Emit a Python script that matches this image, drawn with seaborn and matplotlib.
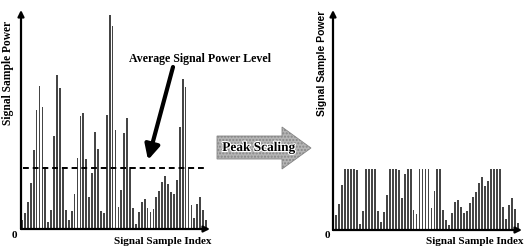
import matplotlib
matplotlib.use("Agg")
import matplotlib.pyplot as plt
import matplotlib.patheffects as pe
import numpy as np
import seaborn as sns
from matplotlib.patches import Polygon

# signal power per sample (pixel-ish units above baseline)
original_power = [9, 16, 27, 46, 79, 119, 143, 122, 62, 7, 19, 93, 154, 141, 62, 19,
                  9, 18, 35, 71, 113, 116, 70, 32, 56, 97, 80, 18, 16, 114, 214, 203,
                  99, 22, 39, 96, 111, 62, 21, 5, 17, 27, 30, 21, 17, 20, 32, 38,
                  47, 53, 45, 37, 35, 49, 102, 150, 142, 62, 24, 11, 25, 32, 19, 9]
scaled_power = [9, 15, 26, 45, 61, 61, 61, 61, 60, 6, 19, 61, 61, 61, 61, 19,
                8, 18, 35, 61, 61, 61, 60, 32, 56, 61, 61, 20, 16, 61, 61, 61,
                61, 22, 39, 61, 61, 20, 10, 5, 17, 28, 30, 23, 17, 19, 27, 33,
                38, 47, 53, 44, 49, 61, 61, 61, 61, 23, 11, 25, 32, 21, 7]
average_level = 61

y_label = "Signal Sample Power"
x_label = "Signal Sample Index"
avg_label = "Average Signal Power Level"
arrow_label = "Peak Scaling"

sns.set_theme(style="white")
plt.rcParams["font.family"] = ["Liberation Serif", "DejaVu Serif"]

W, H = 524, 248
fig = plt.figure(figsize=(W / 100, H / 100), dpi=100)
fig.patch.set_facecolor("white")


def panel(rect, values, xlim, ylim):
    ax = fig.add_axes(rect)
    idx = np.arange(len(values))
    sns.barplot(x=idx, y=values, native_scale=True, width=0.6, color="#454545",
                saturation=1, edgecolor="none", ax=ax)
    ax.set_xlim(*xlim)
    ax.set_ylim(*ylim)
    ax.set_xlabel("")
    ax.set_ylabel("")
    ax.set_xticks([])
    ax.set_yticks([])
    for s in ax.spines.values():
        s.set_visible(False)
    ax.patch.set_alpha(0)
    arrow = dict(arrowstyle="-|>", lw=1.6, color="black", mutation_scale=9,
                 shrinkA=0, shrinkB=0)
    ax.annotate("", xy=(0, 1), xytext=(0, 0), xycoords="axes fraction", arrowprops=arrow)
    ax.annotate("", xy=(1, 0), xytext=(0, 0), xycoords="axes fraction", arrowprops=arrow)
    return ax


ax_left = panel([21 / W, 19 / H, 189 / W, 219 / H], original_power, (-0.34, 64.36), (0, 219))
ax_left.hlines(average_level, 0.34, 63.3, colors="black", linestyles=(0, (3, 2)), lw=1.4)

ax_right = panel([333 / W, 18 / H, 189 / W, 220 / H], scaled_power, (-0.1, 63.45), (0, 220))

# overlay in pixel coordinates for the annotations
ov = fig.add_axes([0, 0, 1, 1], zorder=5)
ov.set_xlim(0, W)
ov.set_ylim(H, 0)
ov.axis("off")
ov.patch.set_alpha(0)

bold = dict(fontweight="bold", color="black")
ov.text(8, 73, y_label, rotation=90, ha="center", va="center", fontsize=8.3, **bold)
ov.text(212, 241, x_label, ha="right", va="center", fontsize=8, **bold)
ov.text(14, 236, "0", ha="center", va="center", fontsize=8, **bold)

ov.text(322, 63, y_label, rotation=90, ha="center", va="center", fontsize=7.5,
        family=["Liberation Sans Narrow", "Liberation Sans"], **bold)
ov.text(523, 242, x_label, ha="right", va="center", fontsize=8, **bold)
ov.text(327, 236, "0", ha="center", va="center", fontsize=8, **bold)

ov.text(129, 59, avg_label, ha="left", va="center", fontsize=8.6, **bold)
ov.annotate("", xy=(148, 160), xytext=(173, 67),
            arrowprops=dict(arrowstyle="-|>", lw=3, color="black", mutation_scale=22,
                            shrinkA=0, shrinkB=0))

block = Polygon([(217, 136), (282, 136), (282, 127), (311, 148), (282, 169),
                 (282, 159), (217, 159)], closed=True, facecolor="#b5b5b5",
                edgecolor="#858585", lw=0.6, hatch=".....")
ov.add_patch(block)
ov.text(259, 148, arrow_label, ha="center", va="center", fontsize=9.6,
        path_effects=[pe.withStroke(linewidth=1.6, foreground="white")], **bold)

fig.savefig("out.png", dpi=100)
